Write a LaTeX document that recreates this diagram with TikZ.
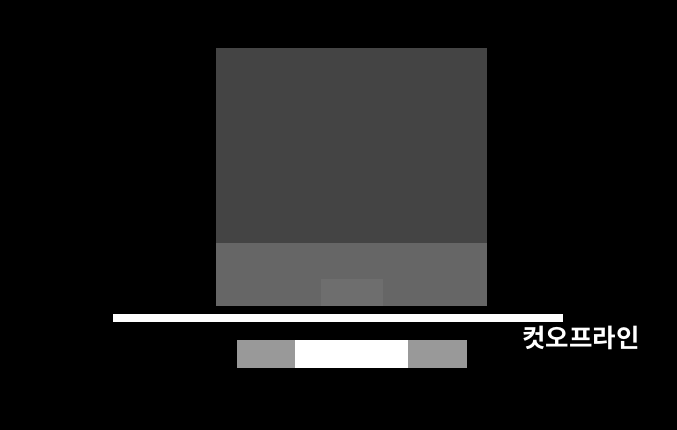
\documentclass[tikz,border=0pt]{standalone}
\usepackage{fontspec}
\newfontfamily\krfont{Noto Sans CJK KR}[BoldFont={Noto Sans CJK KR Bold}]
\begin{document}
\begin{tikzpicture}[x=1pt,y=-1pt,
  block/.style={inner sep=0pt,outer sep=0pt,draw=none}]
\useasboundingbox (0,0) rectangle (677,430);
\fill[black] (0,0) rectangle (677,430);
% main square
\fill[fill={rgb,255:red,68;green,68;blue,68}] (216,48) rectangle (487,243);
\fill[fill={rgb,255:red,102;green,102;blue,102}] (216,243) rectangle (487,306);
\fill[fill={rgb,255:red,110;green,110;blue,110}] (321,279) rectangle (383,306);
% cut-off line
\fill[white] (113,314) rectangle (563,322);
% bottom bar
\fill[fill={rgb,255:red,153;green,153;blue,153}] (237,340) rectangle (295,368);
\fill[white] (295,340) rectangle (408,368);
\fill[fill={rgb,255:red,153;green,153;blue,153}] (408,340) rectangle (467,368);
% label
\node[block,text=white,font=\krfont\bfseries\fontsize{25.5}{28}\selectfont] (lbl) at (581,337.5) {컷오프라인};
\end{tikzpicture}
\end{document}
